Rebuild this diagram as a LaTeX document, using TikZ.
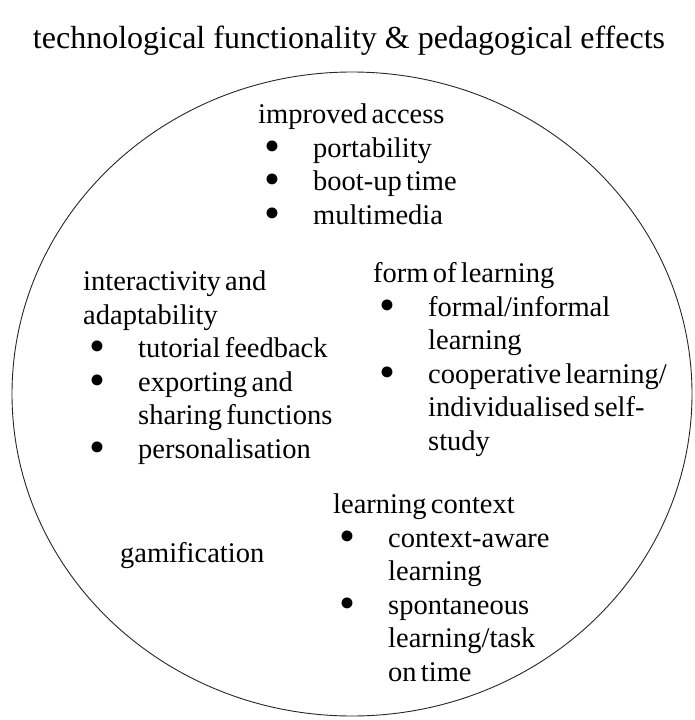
\documentclass[tikz,border=0pt]{standalone}
\usepackage{fontspec}
\setmainfont[WordSpace=0.6]{Liberation Serif}
\newfontfamily\headfont{Liberation Serif}

% bullet and hanging indent for the lists
\newcommand{\bul}{\makebox[28pt][c]{\raisebox{-4pt}{\scalebox{1.6}{\textbullet}}}\hspace*{27pt}}
\newcommand{\ind}{\hspace*{55pt}}

\begin{document}
\begin{tikzpicture}[x=1pt,y=-1pt,
  txt/.style={inner sep=0pt,anchor=base west,align=left,
    font=\fontsize{28.5}{33.5}\selectfont}]
  \useasboundingbox (0,0) rectangle (694,720);

  \node[anchor=base,inner sep=0pt,font=\headfont\fontsize{32}{38}\selectfont]
    (title) at (349,48) {technological functionality \& pedagogical effects};

  \draw[line width=0.9pt,black!85] (352,394) ellipse [x radius=340pt, y radius=322pt];

  % anchored at the baseline of the last line
  \node[txt] (access) at (258,224)
    {improved access\\ \bul portability\\ \bul boot-up time\\ \bul multimedia};
  \node[txt] (interact) at (83,458)
    {interactivity and\\ adaptability\\ \bul tutorial feedback\\
     \bul exporting and\\ \ind sharing functions\\ \bul personalisation};
  \node[txt] (formlearn) at (373,450)
    {form of learning\\ \bul formal/informal\\ \ind learning\\
     \bul cooperative learning/\\ \ind individualised self-\\ \ind study};
  \node[txt] (context) at (333,681)
    {learning context\\ \bul context-aware\\ \ind learning\\
     \bul spontaneous\\ \ind learning/task\\ \ind on time};
  \node[txt] (gamif) at (120,562) {gamification};
\end{tikzpicture}
\end{document}
